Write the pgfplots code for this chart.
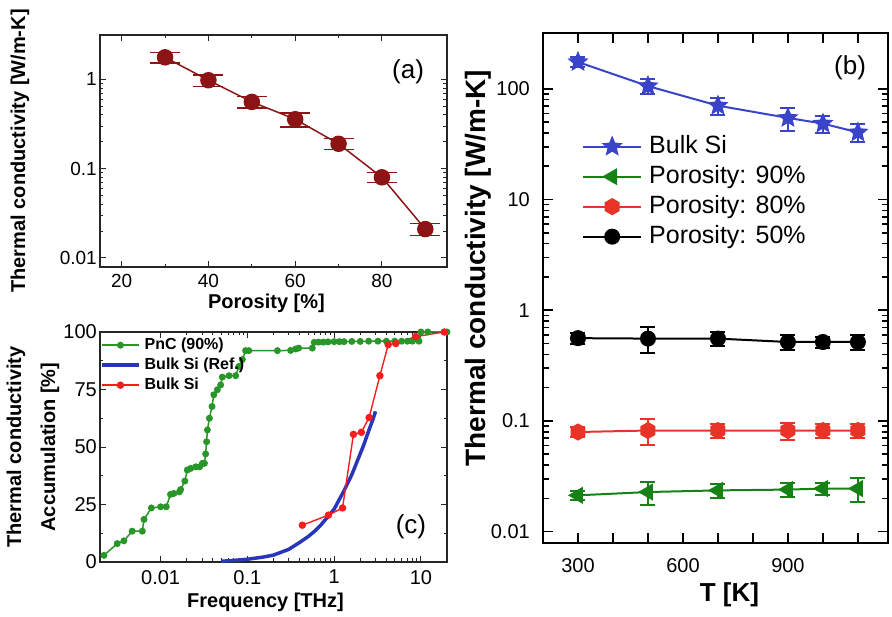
\documentclass[border=0pt]{standalone}
\usepackage{fontspec}
\setmainfont{Liberation Sans}
\usepackage{pgfplots}
\pgfplotsset{compat=1.18}

\definecolor{ared}{RGB}{140,20,20}
\definecolor{bblue}{RGB}{58,68,200}
\definecolor{bgreen}{RGB}{22,130,22}
\definecolor{bred}{RGB}{232,52,40}
\definecolor{cgreen}{RGB}{40,150,40}
\definecolor{cblue}{RGB}{40,55,185}
\definecolor{cred}{RGB}{245,30,30}

\pgfdeclareplotmark{fstar}{%
  \pgfpathmoveto{\pgfpointpolar{90}{\pgfplotmarksize}}%
  \pgfpathlineto{\pgfpointpolar{126}{0.45\pgfplotmarksize}}%
  \pgfpathlineto{\pgfpointpolar{162}{\pgfplotmarksize}}%
  \pgfpathlineto{\pgfpointpolar{198}{0.45\pgfplotmarksize}}%
  \pgfpathlineto{\pgfpointpolar{234}{\pgfplotmarksize}}%
  \pgfpathlineto{\pgfpointpolar{270}{0.45\pgfplotmarksize}}%
  \pgfpathlineto{\pgfpointpolar{306}{\pgfplotmarksize}}%
  \pgfpathlineto{\pgfpointpolar{342}{0.45\pgfplotmarksize}}%
  \pgfpathlineto{\pgfpointpolar{18}{\pgfplotmarksize}}%
  \pgfpathlineto{\pgfpointpolar{54}{0.45\pgfplotmarksize}}%
  \pgfpathclose\pgfusepathqfillstroke}
\pgfdeclareplotmark{hex*}{%
  \pgfpathmoveto{\pgfpointpolar{90}{\pgfplotmarksize}}%
  \pgfpathlineto{\pgfpointpolar{150}{\pgfplotmarksize}}%
  \pgfpathlineto{\pgfpointpolar{210}{\pgfplotmarksize}}%
  \pgfpathlineto{\pgfpointpolar{270}{\pgfplotmarksize}}%
  \pgfpathlineto{\pgfpointpolar{330}{\pgfplotmarksize}}%
  \pgfpathlineto{\pgfpointpolar{30}{\pgfplotmarksize}}%
  \pgfpathclose\pgfusepathqfillstroke}

\pgfplotstableread{
x y e
30 1.77 0.135
40 0.98 0.15
50 0.56 0.15
60 0.358 0.18
70 0.19 0.14
80 0.08 0.13
90 0.021 0.15
}\tabA

\pgfplotstableread{
x y e
300 175 0.10
500 106 0.15
700 70.6 0.17
900 54.7 0.24
1000 48.6 0.18
1100 40.5 0.18
}\tabBulk
\pgfplotstableread{
x y e
300 0.0213 0.10
500 0.0228 0.24
700 0.0236 0.15
900 0.0240 0.15
1000 0.0245 0.13
1100 0.0245 0.25
}\tabNinety
\pgfplotstableread{
x y e
300 0.0795 0.10
500 0.082 0.26
700 0.082 0.15
900 0.082 0.18
1000 0.082 0.15
1100 0.082 0.15
}\tabEighty
\pgfplotstableread{
x y e
300 0.56 0.12
500 0.555 0.26
700 0.555 0.15
900 0.517 0.15
1000 0.517 0.12
1100 0.517 0.15
}\tabFifty

\pgfplotstableread{
x y
0.00222 2.9
0.00316 8
0.00377 9.2
0.0047 13.4
0.00615 13.4
0.00643 18.5
0.00782 23.5
0.0100 24
0.0116 24
0.0130 29.4
0.0142 29.8
0.0165 30.5
0.0170 31.5
0.0190 35.2
0.0203 40
0.0222 40.7
0.0254 41.4
0.0282 41.4
0.0303 42.9
0.0320 42.9
0.0330 47
0.0339 52.3
0.0346 57.4
0.0365 62.5
0.0391 67.6
0.0410 72.7
0.0451 74.9
0.0492 77
0.0514 80.4
0.0614 81
0.0733 81
0.0798 85
0.0875 88
0.0954 91.9
0.104 91.9
0.222 91.9
0.315 92
0.36 92.6
0.39 93
0.56 93
0.59 95.5
0.66 95.6
0.75 95.6
0.85 95.7
1.0 95.8
1.15 95.8
1.3 95.8
1.6 95.9
2.0 95.9
2.5 96
3.2 96
4.0 96
5.0 96
6.0 96
7.0 96
8.0 96
9.5 96
10 100
12 100
20 100
}\tabPnC
\pgfplotstableread{
x y
0.05 0.3
0.07 0.7
0.1 1.2
0.15 2.1
0.2 3
0.3 5.5
0.4 8.5
0.5 11
0.6 13.5
0.7 16
0.86 20
1.0 23
1.3 31
1.6 38
1.9 45
2.2 51
2.5 57
2.8 62
3.0 65.5
}\tabRef
\pgfplotstableread{
x y
0.43 16
0.86 20.4
1.25 23.5
1.67 55.5
2.06 56.4
2.53 62.8
3.37 81
4.2 94.5
5.14 95
8.7 98
18.6 100
}\tabSi

\begin{document}
\begin{tikzpicture}
\useasboundingbox (0,0) rectangle (892pt,-617pt);

% ---------------- (a)
\begin{axis}[at={(100pt,-35pt)}, anchor=north west, scale only axis,
  width=347pt, height=232pt,
  xmin=15, xmax=95, ymode=log, ymin=0.0079, ymax=3.15,
  xtick={20,40,60,80}, xticklabels={20,40,60,80}, minor x tick num=1,
  ytick={0.01,0.1,1}, yticklabels={0.01,0.1,1},
  tick align=inside,
  axis line style={line width=1.2pt, black!85},
  every tick/.style={black!85, line width=0.9pt},
  major tick length=6pt, minor tick length=3.5pt,
  ticklabel style={font=\fontsize{19}{19}\selectfont},
  xticklabel style={inner sep=0pt, anchor=north, yshift=-7pt},
  yticklabel style={inner sep=0pt, anchor=east, xshift=-3pt},
  xlabel={Porosity [\%]}, ylabel={Thermal conductivity [W/m-K]},
  every axis x label/.style={at={(rel axis cs:0.5,0)}, xshift=-7pt, yshift=-36pt, anchor=center, font=\bfseries\fontsize{20}{20}\selectfont},
  every axis y label/.style={at={(rel axis cs:0,0.5)}, xshift=-80pt, rotate=90, anchor=center, font=\bfseries\fontsize{20}{20}\selectfont},
  clip=false]
\addplot[color=ared, line width=1.5pt, mark=*, mark size=7.5pt,
  error bars/.cd, y dir=both, y explicit relative,
  error bar style={line width=1.5pt, ared},
  error mark options={rotate=90, mark size=15pt, line width=1.5pt, ared}]
  table[x=x, y=y, y error=e] {\tabA};
\node[font=\fontsize{26}{26}\selectfont] at (rel axis cs:0.888,0.84) {(a)};
\end{axis}

% ---------------- (c)
\begin{axis}[at={(100pt,-332pt)}, anchor=north west, scale only axis,
  width=347pt, height=230pt,
  xmode=log, xmin=0.002, xmax=20, ymin=0, ymax=100,
  xtick={0.01,0.1,1,10}, xticklabels={0.01,0.1,1,10},
  ytick={0,25,50,75,100}, yticklabels={0,25,50,75,100}, minor y tick num=1,
  tick align=inside,
  axis line style={line width=1.2pt, black!85},
  every tick/.style={black!85, line width=0.9pt},
  major tick length=6pt, minor tick length=3.5pt,
  ticklabel style={font=\fontsize{20}{20}\selectfont},
  xticklabel style={inner sep=0pt, anchor=north, yshift=-8pt},
  yticklabel style={inner sep=0pt, anchor=east, xshift=-3pt},
  xlabel={Frequency [THz]}, ylabel={Thermal conductivity\\[12pt]Accumulation [\%]},
  every axis x label/.style={at={(rel axis cs:0.5,0)}, xshift=-8pt, yshift=-40pt, anchor=center, font=\bfseries\fontsize{20}{20}\selectfont},
  every axis y label/.style={at={(rel axis cs:0,0.5)}, xshift=-67pt, rotate=90, anchor=center, align=center, font=\bfseries\fontsize{20}{22}\selectfont},
  legend style={at={(rel axis cs:0,1)}, anchor=north west, draw=none, fill=none,
    inner xsep=0pt, inner ysep=3pt, row sep=0pt, column sep=3pt,
    font=\bfseries\fontsize{16}{16}\selectfont,
    nodes={inner sep=1pt, text height=13pt, text depth=5pt}},
  legend cell align=left,
  legend image code/.code={\draw[mark repeat=2, mark phase=2, #1] plot coordinates {(0pt,0pt) (18.5pt,0pt) (37pt,0pt)};},
  clip=true]
\addplot[color=cgreen, line width=1.5pt, mark=*, mark size=2.7pt] table[x=x,y=y] {\tabPnC};
\addlegendentry{PnC (90\%)}
\addplot[color=cblue, line width=3.5pt] table[x=x,y=y] {\tabRef};
\addlegendentry{Bulk Si (Ref.)}
\addplot[color=cred, line width=1.4pt, mark=*, mark size=3pt] table[x=x,y=y] {\tabSi};
\addlegendentry{Bulk Si}
\node[font=\fontsize{26}{26}\selectfont] at (rel axis cs:0.896,0.152) {(c)};
\end{axis}

% ---------------- (b)
\begin{axis}[at={(543pt,-33pt)}, anchor=north west, scale only axis,
  width=345pt, height=510pt,
  xmin=200, xmax=1186, ymode=log, ymin=0.0079, ymax=320,
  xtick={300,400,500,600,700,800,900,1000,1100}, xticklabels={300,,,600,,,900,,},
  ytick={0.01,0.1,1,10,100}, yticklabels={0.01,0.1,1,10,100},
  tick align=inside,
  axis line style={line width=2.5pt, black},
  every tick/.style={black, line width=1.6pt},
  major tick length=10pt, minor tick length=6pt,
  ticklabel style={font=\fontsize{20}{20}\selectfont},
  xticklabel style={inner sep=0pt, anchor=north, yshift=-15pt},
  yticklabel style={inner sep=0pt, anchor=east, xshift=-13pt},
  xlabel={T [K]}, ylabel={Thermal conductivity [W/m-K]},
  every axis x label/.style={at={(rel axis cs:0.5,0)}, xshift=14pt, yshift=-52pt, anchor=center, font=\bfseries\fontsize{26}{26}\selectfont},
  every axis y label/.style={at={(rel axis cs:0,0.539)}, xshift=-65pt, rotate=90, anchor=center, font=\bfseries\fontsize{28}{28}\selectfont},
  legend style={at={(rel axis cs:0.113,0.804)}, anchor=north west, draw=none, fill=none,
    inner xsep=0pt, inner ysep=0pt, row sep=3pt, column sep=6pt,
    font=\fontsize{25}{25}\selectfont,
    nodes={inner sep=1pt, text height=19pt, text depth=6pt}},
  legend cell align=left,
  legend image code/.code={\draw[mark repeat=2, mark phase=2, #1] plot coordinates {(0pt,0pt) (29pt,0pt) (58pt,0pt)};},
  clip=false]
\addplot[color=bblue, line width=2pt, mark=fstar, mark size=8.5pt,
  error bars/.cd, y dir=both, y explicit relative,
  error bar style={line width=2pt, bblue},
  error mark options={rotate=90, mark size=7.5pt, line width=2pt, bblue}]
  table[x=x, y=y, y error=e] {\tabBulk};
\addlegendentry{Bulk Si}
\addplot[color=bgreen, line width=2pt, mark=triangle*, mark size=8pt, mark options={rotate=90},
  error bars/.cd, y dir=both, y explicit relative,
  error bar style={line width=2pt, bgreen},
  error mark options={rotate=90, mark size=7.5pt, line width=2pt, bgreen}]
  table[x=x, y=y, y error=e] {\tabNinety};
\addlegendentry{Porosity: 90\%}
\addplot[color=bred, line width=2pt, mark=hex*, mark size=7.5pt,
  error bars/.cd, y dir=both, y explicit relative,
  error bar style={line width=2pt, bred},
  error mark options={rotate=90, mark size=7.5pt, line width=2pt, bred}]
  table[x=x, y=y, y error=e] {\tabEighty};
\addlegendentry{Porosity: 80\%}
\addplot[color=black, line width=2pt, mark=*, mark size=7pt,
  error bars/.cd, y dir=both, y explicit relative,
  error bar style={line width=2pt, black},
  error mark options={rotate=90, mark size=7.5pt, line width=2pt, black}]
  table[x=x, y=y, y error=e] {\tabFifty};
\addlegendentry{Porosity: 50\%}
\node[font=\fontsize{26}{26}\selectfont] at (rel axis cs:0.89,0.931) {(b)};
\end{axis}
\end{tikzpicture}
\end{document}
